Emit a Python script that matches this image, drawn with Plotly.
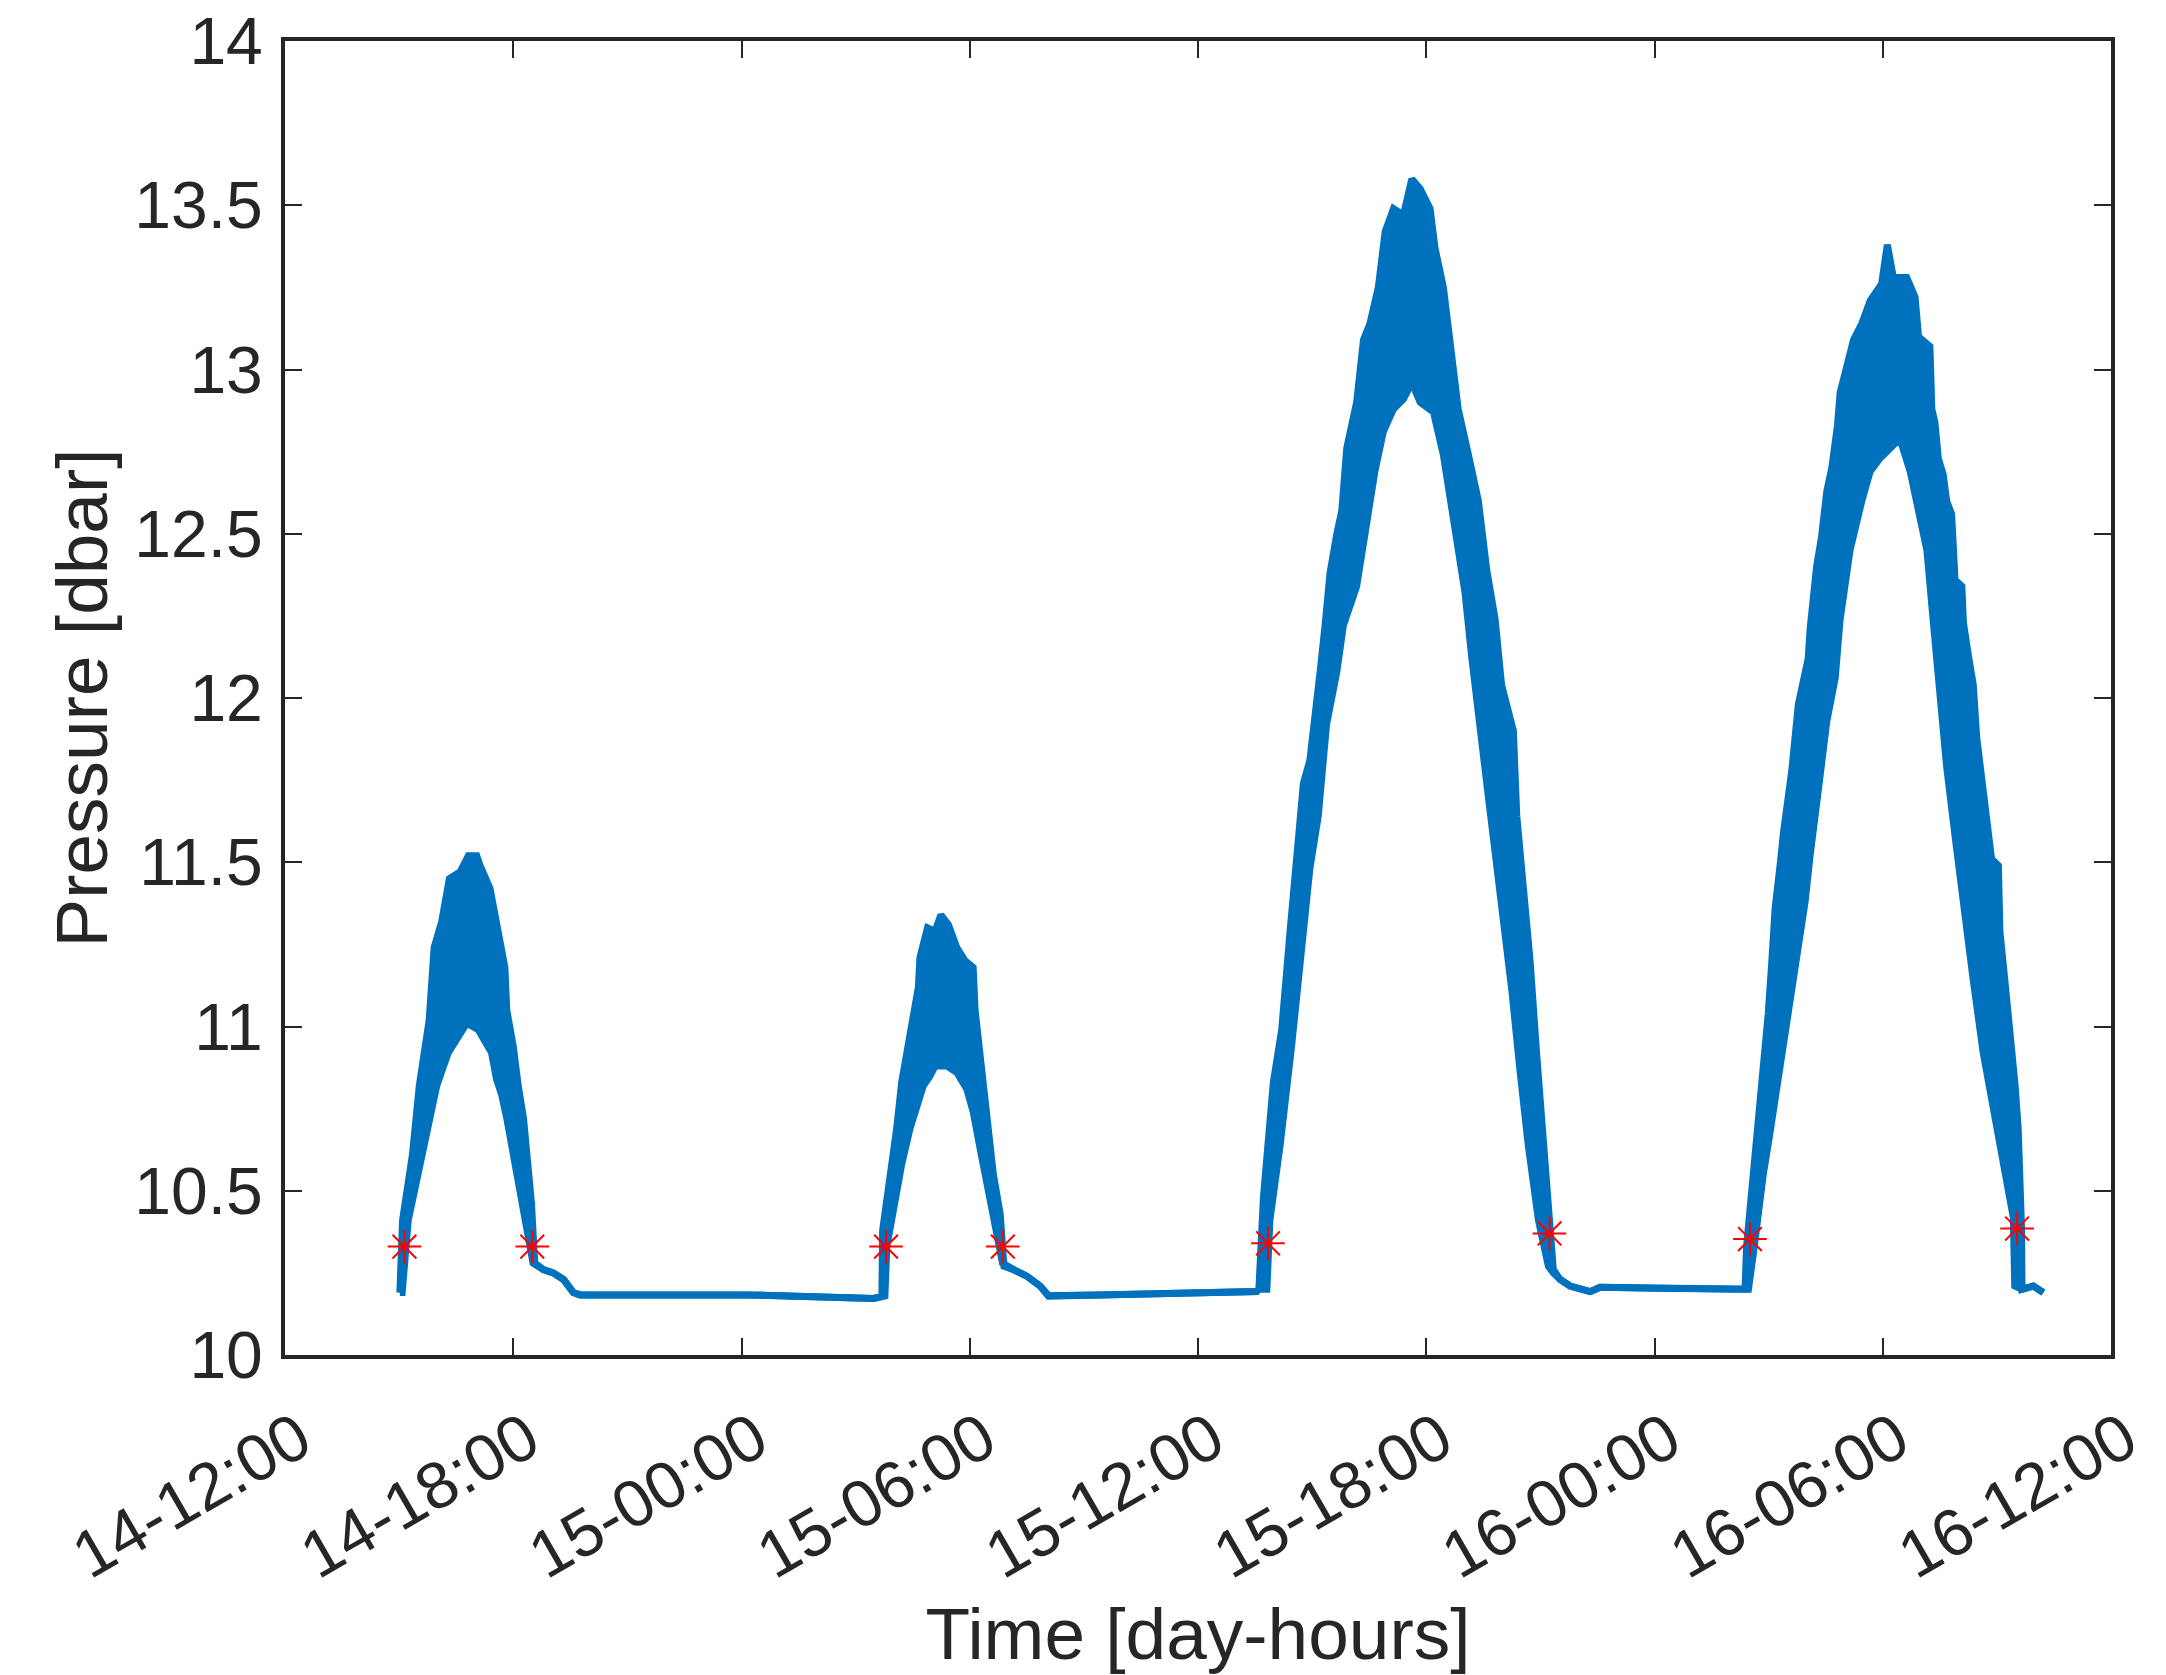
import pandas as pd
import plotly.graph_objects as go

# ---------------- data (hours after 14-12:00, pressure in dbar) ----------------
start_time = "2019-03-14 12:00"

upper_hours = [
    3.02, 3.09, 3.35, 3.53, 3.79, 3.92, 4.12, 4.32, 4.60, 4.82, 5.04, 5.13, 5.39, 5.52,
    5.65, 5.78, 5.83, 6.00, 6.13, 6.27, 6.40, 6.48, 6.55, 6.57, 6.79, 7.05, 7.32, 7.58,
    7.76, 12.14, 15.47, 15.69,
    15.71, 15.90, 16.08, 16.21, 16.34, 16.47, 16.65, 16.69, 16.89, 17.09, 17.24, 17.44,
    17.66, 17.88, 18.09, 18.14, 18.23, 18.36, 18.49, 18.62, 18.80, 18.88, 18.90, 19.15,
    19.50, 19.85, 20.07, 21.42, 23.18, 25.54, 25.60,
    25.72, 25.98, 26.20, 26.42, 26.64, 26.77, 26.94, 27.08, 27.21, 27.34, 27.47, 27.65,
    27.78, 27.91, 28.17, 28.35, 28.52, 28.74, 28.92, 29.14, 29.40, 29.62, 29.84, 30.10,
    30.23, 30.45, 30.63, 30.84, 31.11, 31.37, 31.59, 31.81, 31.98, 32.29, 32.38, 32.55,
    32.73, 32.90, 33.08, 33.25, 33.34, 33.52, 33.78, 34.31, 34.57, 35.97, 38.25, 38.38,
    38.42, 38.51, 38.64, 38.77, 38.86, 38.99, 39.08, 39.17, 39.30, 39.39, 39.61, 39.78,
    40.04, 40.09, 40.26, 40.39, 40.53, 40.66, 40.81, 40.88, 41.10, 41.23, 41.45, 41.67,
    41.97, 42.12, 42.28, 42.63, 42.85, 42.94, 43.24, 43.29, 43.37, 43.46, 43.59, 43.68,
    43.81, 43.90, 44.08, 44.12, 44.25, 44.38, 44.47, 44.60, 44.73, 44.86, 45.04, 45.08,
    45.21, 45.35, 45.48, 45.56, 45.61, 45.65, 45.66, 45.96, 46.22,
]
upper_dbar = [
    10.19, 10.41, 10.61, 10.82, 11.02, 11.24, 11.32, 11.45, 11.47, 11.52, 11.52, 11.49, 11.42, 11.33,
    11.26, 11.18, 11.05, 10.94, 10.82, 10.72, 10.56, 10.46, 10.31, 10.28, 10.26, 10.25, 10.23, 10.19,
    10.183, 10.183, 10.172, 10.178,
    10.38, 10.53, 10.69, 10.83, 10.92, 11.01, 11.12, 11.21, 11.30, 11.29, 11.34, 11.31,
    11.24, 11.20, 11.18, 11.05, 10.96, 10.84, 10.69, 10.55, 10.43, 10.33, 10.27, 10.26,
    10.24, 10.21, 10.18, 10.183, 10.188, 10.193, 10.20,
    10.48, 10.83, 10.99, 11.29, 11.58, 11.74, 11.81, 11.93, 12.08, 12.22, 12.38, 12.50,
    12.57, 12.76, 12.90, 13.09, 13.14, 13.25, 13.42, 13.49, 13.47, 13.58, 13.55, 13.49,
    13.37, 13.25, 13.09, 12.88, 12.74, 12.60, 12.39, 12.24, 12.04, 11.90, 11.64, 11.43,
    11.20, 10.92, 10.64, 10.36, 10.26, 10.23, 10.21, 10.193, 10.206, 10.203, 10.198, 10.20,
    10.33, 10.44, 10.59, 10.76, 10.91, 11.04, 11.19, 11.36, 11.49, 11.59, 11.78, 11.98,
    12.12, 12.21, 12.40, 12.49, 12.63, 12.70, 12.83, 12.93, 13.03, 13.09, 13.14, 13.21,
    13.26, 13.38, 13.28, 13.28, 13.22, 13.10, 13.07, 12.88, 12.84, 12.73, 12.68, 12.60,
    12.56, 12.36, 12.34, 12.23, 12.13, 12.04, 11.88, 11.75, 11.62, 11.51, 11.49, 11.29,
    11.14, 10.99, 10.82, 10.69, 10.53, 10.38, 10.20, 10.21, 10.19,
]

lower_hours = [
    3.02, 3.08, 3.24, 3.42, 3.59, 3.77, 3.99, 4.29, 4.56, 4.78, 5.08, 5.21, 5.43, 5.56,
    5.70, 5.83, 6.00, 6.18, 6.35, 6.48, 6.52, 6.79, 7.05, 7.32, 7.58, 7.76, 12.14, 15.47,
    15.69, 15.77,
    15.82, 16.04, 16.21, 16.43, 16.65, 16.78, 16.96, 17.09, 17.39, 17.66, 17.92, 18.09,
    18.27, 18.45, 18.62, 18.80, 18.86, 19.15, 19.50, 19.85, 20.07, 21.42, 23.18, 25.54,
    25.60, 25.81,
    25.89, 26.16, 26.46, 26.73, 26.94, 27.16, 27.38, 27.65, 27.82, 28.17, 28.43, 28.65,
    28.87, 29.14, 29.40, 29.62, 29.84, 30.19, 30.45, 30.63, 30.80, 31.02, 31.19, 31.37,
    31.59, 31.81, 32.03, 32.25, 32.46, 32.68, 32.95, 33.21, 33.34, 33.52, 33.78, 34.31,
    34.57, 35.97, 38.25, 38.38, 38.47,
    38.60, 38.73, 38.86, 39.04, 39.17, 39.34, 39.47, 39.65, 39.83, 39.96, 40.09, 40.26,
    40.35, 40.53, 40.75, 40.88, 41.14, 41.45, 41.67, 41.93, 42.28, 42.45, 42.72, 42.94,
    43.16, 43.33, 43.51, 43.68, 43.90, 44.12, 44.38, 44.64, 44.91, 45.17, 45.43, 45.47,
    45.66, 45.96, 46.22,
]
lower_dbar = [
    10.19, 10.19, 10.41, 10.51, 10.61, 10.72, 10.82, 10.92, 10.97, 11.01, 10.99, 10.96, 10.92, 10.84,
    10.79, 10.72, 10.61, 10.51, 10.41, 10.31, 10.28, 10.26, 10.25, 10.23, 10.19, 10.183, 10.183, 10.172,
    10.178, 10.18,
    10.33, 10.48, 10.58, 10.69, 10.77, 10.82, 10.85, 10.88, 10.88, 10.86, 10.81, 10.74,
    10.63, 10.53, 10.43, 10.33, 10.28, 10.26, 10.24, 10.21, 10.18, 10.183, 10.188, 10.193,
    10.20, 10.20,
    10.41, 10.64, 10.94, 11.27, 11.48, 11.64, 11.92, 12.08, 12.22, 12.34, 12.53, 12.69,
    12.81, 12.88, 12.91, 12.96, 12.90, 12.87, 12.74, 12.60, 12.46, 12.32, 12.13, 11.94,
    11.74, 11.53, 11.34, 11.11, 10.87, 10.64, 10.41, 10.27, 10.25, 10.23, 10.21, 10.193,
    10.206, 10.203, 10.198, 10.20, 10.20,
    10.31, 10.45, 10.55, 10.68, 10.78, 10.89, 10.98, 11.12, 11.28, 11.38, 11.52, 11.66,
    11.76, 11.93, 12.06, 12.24, 12.45, 12.60, 12.69, 12.73, 12.77, 12.79, 12.69, 12.58,
    12.45, 12.23, 12.01, 11.79, 11.58, 11.36, 11.14, 10.92, 10.75, 10.60, 10.42, 10.21,
    10.20, 10.21, 10.19,
]

marker_hours = [3.14, 6.50, 15.80, 18.87, 25.84, 33.24, 38.51, 45.53]
marker_dbar = [10.33, 10.33, 10.33, 10.33, 10.34, 10.37, 10.353, 10.385]

tick_hours = [0, 6, 12, 18, 24, 30, 36, 42, 48]
y_ticks = [10, 10.5, 11, 11.5, 12, 12.5, 13, 13.5, 14]

# ---------------- figure ----------------
t0 = pd.Timestamp(start_time)


def to_time(hours):
    return [t0 + pd.Timedelta(hours=h) for h in hours]


BLUE = "#0072BD"
INK = "#262626"
FONT = "Liberation Sans, Arial, Helvetica, sans-serif"

fig = go.Figure()
fig.add_trace(go.Scatter(
    x=to_time(lower_hours), y=lower_dbar, mode="lines",
    line=dict(color=BLUE, width=7), showlegend=False, hoverinfo="skip",
))
fig.add_trace(go.Scatter(
    x=to_time(upper_hours), y=upper_dbar, mode="lines",
    line=dict(color=BLUE, width=7), fill="tonexty", fillcolor=BLUE,
    showlegend=False, hoverinfo="skip",
))
fig.add_trace(go.Scatter(
    x=to_time(marker_hours), y=marker_dbar, mode="markers",
    marker=dict(symbol="asterisk-open", size=28, color="#FF0000",
                line=dict(color="#FF0000", width=2)),
    showlegend=False,
))

axis_common = dict(
    showline=True, linewidth=4, linecolor=INK, mirror="ticks",
    ticks="inside", ticklen=17, tickwidth=2, tickcolor=INK,
    showgrid=False, zeroline=False,
    tickfont=dict(family=FONT, size=66, color=INK),
)

fig.update_xaxes(
    type="date",
    range=[t0, t0 + pd.Timedelta(hours=48)],
    tickvals=to_time(tick_hours),
    tickformat="%d-%H:%M",
    tickangle=-30,
    ticklabelshift=14,
    ticklabelstandoff=16,
    title=dict(text="Time [day-hours]", font=dict(family=FONT, size=73, color=INK), standoff=18),
    **axis_common,
)
fig.update_yaxes(
    range=[10, 14],
    tickvals=y_ticks,
    ticklabelstandoff=5,
    title=dict(text="Pressure [dbar]", font=dict(family=FONT, size=73, color=INK), standoff=4),
    **axis_common,
)

fig.update_layout(
    width=2166, height=1675,
    margin=dict(l=285, r=55, t=41, b=320, autoexpand=False),
    paper_bgcolor="white", plot_bgcolor="white",
    font=dict(family=FONT, color=INK),
)

fig.write_html("out.html")
